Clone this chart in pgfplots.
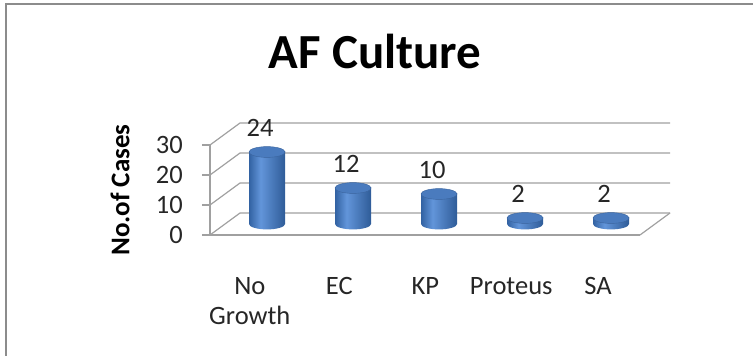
\documentclass[border=0pt]{standalone}
\usepackage{pgfplots}
\pgfplotsset{compat=1.18}
\usepackage{fontspec}
\setmainfont{Carlito}

\definecolor{gridgray}{HTML}{A0A0A0}
\definecolor{framegray}{HTML}{8C8C8C}
\definecolor{cylDark}{HTML}{3262A2}
\definecolor{cylDarkR}{HTML}{2F5C98}
\definecolor{cylLight}{HTML}{6295DA}
\definecolor{cylTop}{HTML}{4A7BBE}
\definecolor{cylEdge}{HTML}{3A649E}

% left-to-right cylinder shading; the path is mapped onto 25bp..75bp
\pgfdeclarehorizontalshading{cylshade}{100bp}{%
  color(0bp)=(cylDark); color(25bp)=(cylDark); color(41bp)=(cylLight);
  color(75bp)=(cylDarkR); color(100bp)=(cylDarkR)}

% lower half of an ellipse: the rounded foot of a cylinder
\pgfdeclareplotmark{cylfoot}{%
  \pgfpathmoveto{\pgfqpoint{-\pgfplotmarksize}{0pt}}%
  \pgfpatharc{180}{360}{\pgfplotmarksize and 0.3\pgfplotmarksize}%
  \pgfpathclose
  \pgfshadepath{cylshade}{0}%
  \pgfusepath{}%
}

\pgfplotsset{
  cylbody/.style={ybar, bar width=36pt, bar shift=0pt, draw=none, shading=cylshade},
}

\begin{document}
\begin{tikzpicture}[x=1pt,y=1pt]
  \begin{axis}[
    scale only axis, width=430pt, height=90pt,
    xmin=-0.663, xmax=4.337,
    ymin=-3.6667, ymax=26.3333,
    clip=false,
    /pgf/number format/assume math mode=true,
    axis lines*=left,
    axis line style={gridgray, line width=1.2pt},
    xtick={-0.2,0.84,1.84,2.84,3.85},
    xticklabels={No\\Growth, EC, KP, Proteus, SA},
    xtick style={draw=none},
    xticklabel style={font=\fontsize{26.5}{30}\selectfont, align=center,
                      anchor=north, inner sep=0pt, yshift=-34pt, text=black!85},
    ytick={-3.6667,6.3333,16.3333,26.3333},
    yticklabels={0,10,20,30},
    ytick style={gridgray, line width=1.2pt},
    tick align=outside,
    major tick length=8pt,
    yticklabel style={font=\fontsize{26.5}{30}\selectfont, anchor=east,
                      inner sep=0pt, xshift=-19pt, text=black!85},
    ylabel={\textbf{No.of Cases}},
    ylabel style={font=\fontsize{27}{30}\selectfont, at={(axis description cs:-0.209,0.5)},
                  anchor=center},
    title={\textbf{AF Culture}},
    title style={font=\fontsize{49}{56}\selectfont, at={(axis description cs:0.384,1.967)},
                 anchor=center},
  ]
    \coordinate (o) at (axis cs:-0.663,-3.6667);
    % back wall gridlines, side wall diagonals and floor edge
    \foreach \f/\b in {-3.6667/3.6667, 6.3333/13.6667, 16.3333/23.6667, 26.3333/33.6667} {
      \edef\temp{\noexpand\draw[gridgray, line width=1.2pt]
        (axis cs:-0.663,\f) -- (axis cs:-0.314,\b) -- (axis cs:4.686,\b);}
      \temp
    }
    \draw[gridgray, line width=1.2pt] (axis cs:4.337,-3.6667) -- (axis cs:4.686,3.6667);

    % cylinder feet
    \addplot[only marks, mark=cylfoot, mark size=18pt]
      coordinates {(0,0) (1,0) (2,0) (3,0) (4,0)};
    % cylinder bodies, one per category so each gets its own shading
    \addplot[cylbody] coordinates {(0,24)};
    \addplot[cylbody] coordinates {(1,12)};
    \addplot[cylbody] coordinates {(2,10)};
    \addplot[cylbody] coordinates {(3,2)};
    \addplot[cylbody] coordinates {(4,2)};
    % cylinder tops with value labels
    \addplot[only marks, mark=*, mark size=18pt,
             mark options={yscale=0.3, fill=cylTop, draw=cylEdge, line width=0.4pt},
             nodes near coords,
             every node near coord/.append style={font=\fontsize{26.5}{30}\selectfont,
               anchor=south, inner sep=0pt, yshift=15pt, xshift=-7pt, text=black!85}]
      coordinates {(0,24) (1,12) (2,10) (3,2) (4,2)};
  \end{axis}
  % page area and chart frame (left and top edges), placed from the axis corner
  \pgfresetboundingbox
  \path[use as bounding box, shift={(o)}] (-210,-121) rectangle (543,235);
  \draw[framegray, line width=2pt, shift={(o)}] (-204,-121) -- (-204,231) -- (543,231);
\end{tikzpicture}
\end{document}
